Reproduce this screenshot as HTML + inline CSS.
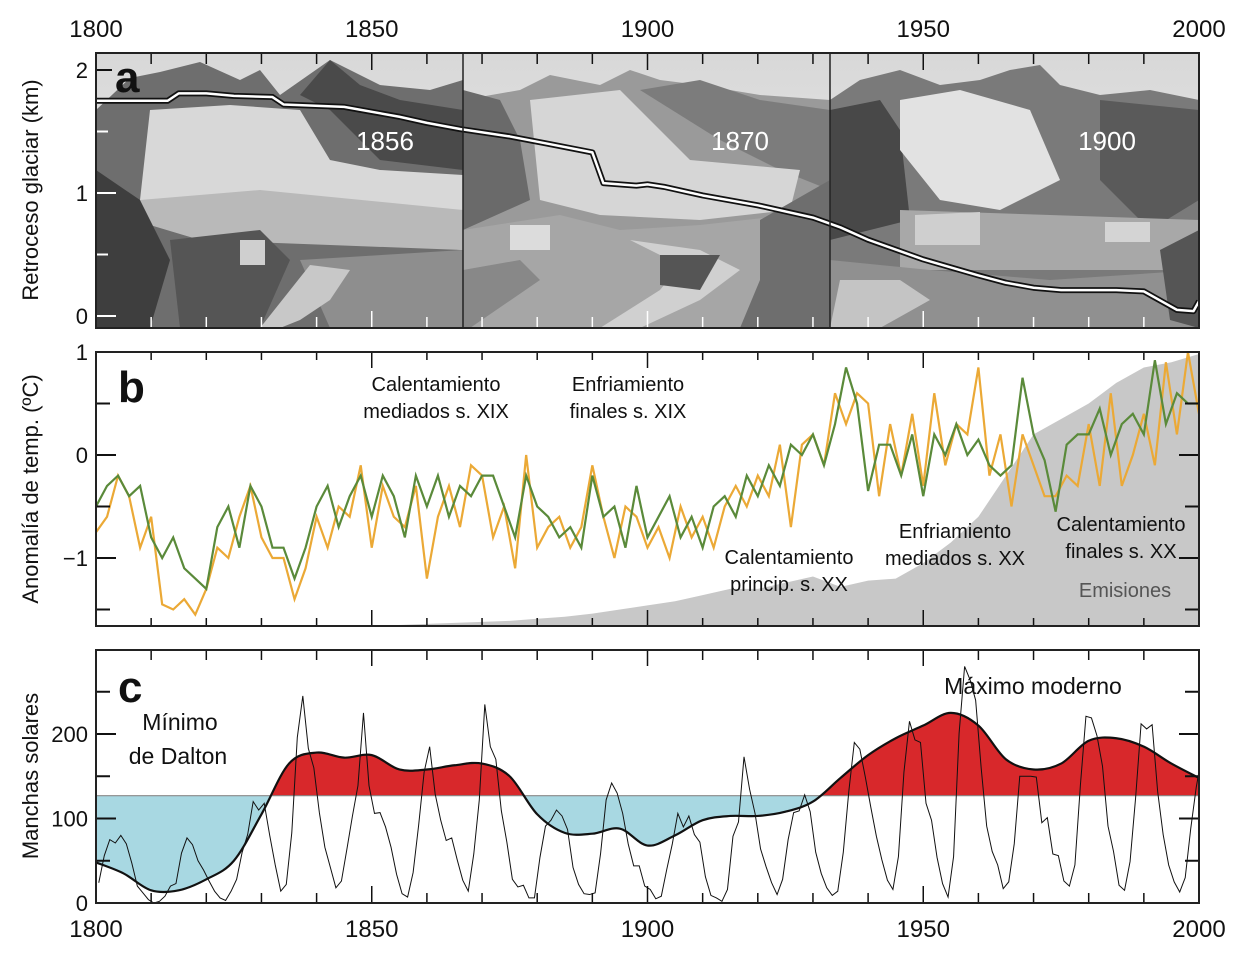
<!DOCTYPE html>
<html><head><meta charset="utf-8">
<style>
html,body{margin:0;padding:0;background:#fff;}
svg{display:block;font-family:"Liberation Sans",sans-serif;}
</style></head>
<body>
<svg id="fig" width="1241" height="957" viewBox="0 0 1241 957">
<defs>
<linearGradient id="sky" x1="0" y1="0" x2="0" y2="1"><stop offset="0" stop-color="#d8d8d8"/><stop offset="1" stop-color="#eeeeee"/></linearGradient>
<clipPath id="clipA"><rect x="96" y="53" width="1103" height="275"/></clipPath>
<clipPath id="clipB"><rect x="96" y="352" width="1103" height="274"/></clipPath>
<clipPath id="clipC"><rect x="96" y="650" width="1103" height="253"/></clipPath>
</defs>
<g id="photos" clip-path="url(#clipA)">
  <!-- photo 1856 -->
  <g>
    <rect x="96" y="53" width="367" height="275" fill="url(#sky)"/>
    <polygon points="96,110 130,78 160,72 200,62 240,80 260,70 280,95 330,60 350,70 380,85 430,90 463,80 463,328 96,328" fill="#6e6e6e"/>
    <polygon points="300,95 330,60 360,85 400,100 463,110 463,170 380,160 330,110" fill="#4a4a4a"/>
    <polygon points="150,110 230,105 300,110 330,160 380,170 463,175 463,250 400,245 330,240 230,235 150,220 140,200" fill="#d8d8d8"/>
    <polygon points="140,200 260,190 463,210 463,250 330,245 200,240 150,225" fill="#b9b9b9"/>
    <polygon points="96,170 140,200 170,260 150,328 96,328" fill="#3e3e3e"/>
    <polygon points="170,240 260,230 290,260 260,328 180,328" fill="#555"/>
    <polygon points="300,260 463,250 463,328 330,328" fill="#8e8e8e"/>
    <polygon points="240,240 265,240 265,265 240,265" fill="#cfcfcf"/>
    <polygon points="310,265 350,270 330,300 300,320 280,328 260,328" fill="#c8c8c8"/>
  </g>
  <!-- photo 1870 -->
  <g>
    <rect x="463" y="53" width="367" height="275" fill="url(#sky)"/>
    <polygon points="463,100 520,90 550,75 600,85 630,70 660,80 700,85 760,95 830,100 830,328 463,328" fill="#9a9a9a"/>
    <polygon points="463,90 500,100 520,140 530,200 463,230" fill="#6a6a6a"/>
    <polygon points="640,90 700,80 760,100 830,110 830,190 780,170 720,140" fill="#7c7c7c"/>
    <polygon points="530,100 620,90 650,120 690,160 800,170 790,210 700,220 600,215 540,200" fill="#d6d6d6"/>
    <polygon points="463,230 560,215 620,230 700,225 790,215 830,230 830,328 463,328" fill="#a6a6a6"/>
    <polygon points="630,240 700,250 740,270 700,300 640,328 600,328 660,290 680,265" fill="#d0d0d0"/>
    <polygon points="660,255 720,255 700,290 660,285" fill="#555"/>
    <polygon points="760,220 830,180 830,328 740,328 760,280" fill="#6e6e6e"/>
    <polygon points="510,225 550,225 550,250 510,250" fill="#dcdcdc"/>
    <polygon points="463,270 520,260 540,280 470,328 463,328" fill="#888"/>
  </g>
  <!-- photo 1900 -->
  <g>
    <rect x="830" y="53" width="369" height="275" fill="url(#sky)"/>
    <polygon points="830,100 860,80 900,70 940,85 980,80 1010,70 1040,65 1060,85 1100,95 1150,90 1199,100 1199,328 830,328" fill="#7a7a7a"/>
    <polygon points="830,110 880,100 900,130 910,220 830,240" fill="#484848"/>
    <polygon points="900,100 960,90 1030,110 1060,180 1000,210 940,200 900,150" fill="#e2e2e2"/>
    <polygon points="1100,100 1199,110 1199,200 1150,230 1100,180" fill="#5a5a5a"/>
    <polygon points="900,210 1199,220 1199,270 900,270" fill="#a8a8a8"/>
    <polygon points="915,215 980,212 980,245 915,245" fill="#cfcfcf"/>
    <polygon points="1105,222 1150,222 1150,242 1105,242" fill="#d4d4d4"/>
    <polygon points="830,260 930,270 1050,280 1199,270 1199,328 830,328" fill="#909090"/>
    <polygon points="840,280 900,280 930,300 880,328 830,328" fill="#c4c4c4"/>
    <polygon points="1160,250 1199,230 1199,328 1170,320" fill="#555"/>
  </g>
</g>
<g id="panelA"></g>
<g id="panelB"></g>
<g id="panelC"></g>
<g id="frame"></g>
</svg>
<script>
// ---- data ----
const glacierYears=[1800,1813,1815,1820,1825,1832,1834,1845,1855,1860,1866,1875,1882,1890,1892,1898,1900,1903,1910,1920,1930,1935,1940,1950,1960,1965,1970,1975,1985,1990,1994,1996,1999,2000];
const glacierKm=[1.75,1.75,1.81,1.81,1.79,1.78,1.72,1.70,1.62,1.57,1.52,1.46,1.40,1.33,1.08,1.06,1.07,1.05,0.98,0.90,0.80,0.72,0.62,0.46,0.33,0.27,0.23,0.21,0.21,0.20,0.10,0.05,0.04,0.12];
const tempYears=[];for(let y=1800;y<=2000;y+=2)tempYears.push(y);
const tempGreen=[-0.5,-0.3,-0.2,-0.4,-0.3,-0.8,-1.0,-0.8,-1.1,-1.2,-1.3,-0.7,-0.5,-0.9,-0.3,-0.5,-0.9,-0.9,-1.2,-0.9,-0.5,-0.3,-0.7,-0.4,-0.2,-0.6,-0.2,-0.4,-0.8,-0.2,-0.5,-0.2,-0.6,-0.3,-0.4,-0.2,-0.2,-0.5,-0.8,-0.2,-0.5,-0.6,-0.8,-0.7,-0.9,-0.2,-0.6,-0.5,-0.9,-0.3,-0.8,-0.6,-0.4,-0.8,-0.6,-0.9,-0.5,-0.4,-0.6,-0.2,-0.4,-0.1,-0.3,0.1,0.0,0.2,-0.1,0.3,0.85,0.5,-0.35,0.1,0.1,-0.2,0.2,-0.4,0.2,0.0,0.3,0.0,0.15,-0.1,-0.2,-0.1,0.75,0.2,-0.05,-0.55,0.1,0.2,0.2,0.45,0.0,0.3,0.4,0.2,0.92,0.3,0.6,0.5,0.5];
const tempOrange=[-0.75,-0.6,-0.2,-0.4,-0.9,-0.6,-1.45,-1.5,-1.4,-1.55,-1.3,-0.9,-1.0,-0.6,-0.3,-0.8,-1.0,-1.0,-1.4,-1.1,-0.6,-0.9,-0.5,-0.6,-0.1,-0.9,-0.3,-0.6,-0.7,-0.3,-1.2,-0.6,-0.3,-0.7,-0.1,-0.2,-0.8,-0.5,-1.1,0.0,-0.9,-0.7,-0.6,-0.9,-0.7,-0.1,-0.6,-1.0,-0.5,-0.6,-0.9,-0.7,-1.0,-0.5,-0.8,-0.6,-0.9,-0.5,-0.3,-0.5,-0.2,-0.4,0.1,-0.7,0.1,0.2,-0.1,0.6,0.3,0.6,0.5,-0.4,0.3,-0.2,0.4,-0.3,0.6,-0.1,0.3,0.2,0.85,-0.2,0.2,-0.5,0.2,-0.1,-0.4,-0.4,-0.2,-0.3,0.3,-0.3,0.6,-0.3,0.0,0.4,-0.1,0.9,0.2,1.0,0.4];
const emisYears=[1850,1855,1860,1865,1870,1875,1880,1885,1890,1895,1900,1905,1910,1915,1920,1925,1930,1935,1940,1945,1950,1955,1960,1965,1970,1975,1980,1985,1990,1995,2000];
const emisVals=[-1.66,-1.65,-1.64,-1.63,-1.62,-1.61,-1.59,-1.57,-1.54,-1.5,-1.46,-1.42,-1.36,-1.3,-1.3,-1.24,-1.18,-1.28,-1.22,-1.2,-1.05,-0.85,-0.6,-0.2,0.2,0.35,0.5,0.7,0.85,0.9,0.98];
const sunYears=[];for(let y=1800;y<=2000;y++)sunYears.push(y);
const sunSpots=[24,56,75,71,80,70,47,20,12,4,0,2,8,20,23,59,77,69,50,39,26,14,6,3,14,28,60,81,120,110,118,80,45,14,22,83,196,245,183,160,107,66,42,18,26,64,103,139,225,139,106,107,90,66,34,11,7,36,92,155,185,129,98,74,77,51,27,14,58,122,235,185,170,109,72,28,19,21,6,6,54,91,98,110,103,87,42,22,11,10,12,59,122,142,130,106,70,44,44,20,16,5,8,40,70,106,90,103,81,72,31,9,6,2,16,79,96,173,135,106,64,43,24,10,28,75,107,109,128,108,60,35,18,9,14,60,132,190,182,149,113,79,51,27,16,55,155,215,193,190,118,98,54,23,7,55,201,280,264,240,160,91,61,45,17,25,70,150,150,150,149,95,101,58,56,26,20,45,140,221,219,198,162,91,61,21,15,49,124,212,206,211,132,81,45,25,13,30,88,137,174];
const smoothYears=[1800,1805,1810,1815,1820,1825,1830,1835,1840,1845,1850,1855,1860,1865,1870,1875,1880,1885,1890,1895,1900,1905,1910,1915,1920,1925,1930,1935,1940,1945,1950,1955,1960,1965,1970,1975,1980,1985,1990,1995,2000];
const smoothVals=[48,35,15,15,28,50,105,165,178,172,175,158,158,163,165,150,105,83,82,88,68,80,98,103,103,108,120,148,175,195,210,225,210,170,158,165,192,195,185,165,148];
const sunThreshold=127;
const xTicks=[1800,1850,1900,1950,2000];
const aTicks=[0,1,2];const bTicks=[-1,0,1];const cTicks=[0,100,200];

// ---- scales ----
const X=y=>96+(y-1800)*(1103/200);
const YA=v=>316-v*123;
const YB=v=>455-v*103;
const YC=v=>903-v*0.845;
const NS='http://www.w3.org/2000/svg';
function mk(tag,attrs,parent){const e=document.createElementNS(NS,tag);for(const k in attrs)e.setAttribute(k,attrs[k]);parent.appendChild(e);return e;}
function smoothPath(pts){let d='M'+pts[0][0]+','+pts[0][1];for(let i=0;i<pts.length-1;i++){const p0=pts[Math.max(i-1,0)],p1=pts[i],p2=pts[i+1],p3=pts[Math.min(i+2,pts.length-1)];const c1=[p1[0]+(p2[0]-p0[0])/6,p1[1]+(p2[1]-p0[1])/6],c2=[p2[0]-(p3[0]-p1[0])/6,p2[1]-(p3[1]-p1[1])/6];d+=` C${c1[0]},${c1[1]} ${c2[0]},${c2[1]} ${p2[0]},${p2[1]}`;}return d;}
const A=document.getElementById('panelA'),B=document.getElementById('panelB'),C=document.getElementById('panelC'),F=document.getElementById('frame');

// ---- panel a ----
const gPts=glacierYears.map((y,i)=>X(y)+','+YA(glacierKm[i])).join(' ');
let e=mk('polyline',{points:gPts,fill:'none',stroke:'#111','stroke-width':6,'stroke-linejoin':'round','clip-path':'url(#clipA)'},A);


e=mk('polyline',{points:gPts,fill:'none',stroke:'#fff','stroke-width':2.5,'stroke-linejoin':'round','clip-path':'url(#clipA)'},A);


[['1856',385],['1870',740],['1900',1107]].forEach(([t,x])=>{const el=mk('text',{x:x,y:150,'font-size':26,fill:'#fff','text-anchor':'middle'},A);el.textContent=t;

});
for(let v=0;v<=2;v+=0.5){if(v===2)continue;const el=mk('line',{x1:96,x2:v%1===0?116:108,y1:YA(v),y2:YA(v),stroke:'#fff','stroke-width':2},A);}
mk('line',{x1:96,x2:112,y1:YA(2),y2:YA(2),stroke:'#111','stroke-width':2},A);
for(let y=1810;y<2000;y+=10){mk('line',{x1:X(y),x2:X(y),y1:53,y2:y%50===0?70:64,stroke:'#111','stroke-width':1.5},A);mk('line',{x1:X(y),x2:X(y),y1:328,y2:y%50===0?311:317,stroke:'#fff','stroke-width':1.5},A);}
e=mk('text',{x:115,y:92,'font-size':44,'font-weight':'bold',fill:'#111'},A);e.textContent='a';


mk('line',{x1:463,x2:463,y1:53,y2:328,stroke:'#222','stroke-width':1.5},A);
mk('line',{x1:830,x2:830,y1:53,y2:328,stroke:'#222','stroke-width':1.5},A);

// ---- panel b ----
const emPts=[[X(1800),626]].concat(emisYears.map((y,i)=>[X(y),YB(emisVals[i])])).concat([[X(2000),626]]);
e=mk('polygon',{points:emPts.map(p=>p.join(',')).join(' '),fill:'#c8c8c8','clip-path':'url(#clipB)'},B);


e=mk('polyline',{points:tempYears.map((y,i)=>X(y)+','+YB(tempOrange[i])).join(' '),fill:'none',stroke:'#eba936','stroke-width':2.2,'clip-path':'url(#clipB)'},B);


e=mk('polyline',{points:tempYears.map((y,i)=>X(y)+','+YB(tempGreen[i])).join(' '),fill:'none',stroke:'#5a8a3a','stroke-width':2.2,'clip-path':'url(#clipB)'},B);


for(let v=-1.5;v<=1;v+=0.5){mk('line',{x1:96,x2:v%1===0?116:110,y1:YB(v),y2:YB(v),stroke:'#111','stroke-width':2},B);mk('line',{x1:1199,x2:v%1===0?1179:1185,y1:YB(v),y2:YB(v),stroke:'#111','stroke-width':2},B);}
for(let y=1810;y<2000;y+=10){mk('line',{x1:X(y),x2:X(y),y1:352,y2:y%50===0?368:360,stroke:'#111','stroke-width':1.5},B);mk('line',{x1:X(y),x2:X(y),y1:626,y2:y%50===0?610:618,stroke:'#111','stroke-width':1.5},B);}
e=mk('text',{x:118,y:402,'font-size':44,'font-weight':'bold',fill:'#111'},B);e.textContent='b';


const notes=[['Calentamiento','mediados s. XIX',436,391,'#111'],['Enfriamiento','finales s. XIX',628,391,'#111'],['Calentamiento','princip. s. XX',789,564,'#111'],['Enfriamiento','mediados s. XX',955,538,'#111'],['Calentamiento','finales s. XX',1121,531,'#111']];
notes.forEach(n=>{const t=mk('text',{x:n[2],y:n[3],'font-size':20,fill:n[4],'text-anchor':'middle'},B);t.textContent=n[0];


const t2=mk('text',{x:n[2],y:n[3]+27,'font-size':20,fill:n[4],'text-anchor':'middle'},B);t2.textContent=n[1];});
e=mk('text',{x:1125,y:597,'font-size':20,fill:'#555','text-anchor':'middle'},B);e.textContent='Emisiones';



// ---- panel c ----
const thY=YC(sunThreshold);
const sPts=smoothYears.map((y,i)=>[X(y),YC(smoothVals[i])]);
const sPath=smoothPath(sPts);
mk('defs',{},C).innerHTML=`<clipPath id="above"><rect x="96" y="650" width="1103" height="${thY-650}"/></clipPath><clipPath id="below"><rect x="96" y="${thY}" width="1103" height="${903-thY}"/></clipPath>`;
e=mk('path',{d:sPath+` L${X(2000)},${thY} L${X(1800)},${thY} Z`,fill:'#d8282b','clip-path':'url(#above)'},C);


e=mk('path',{d:sPath+` L${X(2000)},${thY} L${X(1800)},${thY} Z`,fill:'#a8d8e2','clip-path':'url(#below)'},C);


e=mk('line',{x1:96,x2:1199,y1:thY,y2:thY,stroke:'#888','stroke-width':1.2},C);


e=mk('polyline',{points:sunYears.map((y,i)=>X(y+0.5)+','+YC(sunSpots[i])).join(' '),fill:'none',stroke:'#111','stroke-width':1,'clip-path':'url(#clipC)'},C);


e=mk('path',{d:sPath,fill:'none',stroke:'#111','stroke-width':2.2},C);


for(let v=50;v<=300;v+=50){if(YC(v)<652)continue;mk('line',{x1:96,x2:v%100===0?116:110,y1:YC(v),y2:YC(v),stroke:'#111','stroke-width':2},C);mk('line',{x1:1199,x2:v%100===0?1179:1185,y1:YC(v),y2:YC(v),stroke:'#111','stroke-width':2},C);}
for(let y=1810;y<2000;y+=10){mk('line',{x1:X(y),x2:X(y),y1:650,y2:y%50===0?666:660,stroke:'#111','stroke-width':1.5},C);mk('line',{x1:X(y),x2:X(y),y1:903,y2:y%50===0?886:893,stroke:'#111','stroke-width':1.5},C);}
e=mk('text',{x:118,y:702,'font-size':44,'font-weight':'bold',fill:'#111'},C);e.textContent='c';


[['Mínimo',180,730],['de Dalton',178,764]].forEach(a=>{const t=mk('text',{x:a[1],y:a[2],'font-size':23,fill:'#111','text-anchor':'middle'},C);t.textContent=a[0];

});
e=mk('text',{x:1033,y:694,'font-size':23,fill:'#111','text-anchor':'middle'},C);e.textContent='Máximo moderno';



// ---- frames, tick labels, titles ----
[[53,328],[352,626],[650,903]].forEach((r,i)=>{const b=mk('rect',{x:96,y:r[0],width:1103,height:r[1]-r[0],fill:'none',stroke:'#222','stroke-width':2},F);

});
xTicks.forEach(y=>{let t=mk('text',{x:X(y),y:37,'font-size':24,fill:'#111','text-anchor':'middle'},F);t.textContent=y;


t=mk('text',{x:X(y),y:937,'font-size':24,fill:'#111','text-anchor':'middle'},F);t.textContent=y;

});
aTicks.forEach(v=>{const t=mk('text',{x:88,y:YA(v)+8,'font-size':22,fill:'#111','text-anchor':'end'},F);t.textContent=v;

});
bTicks.forEach(v=>{const t=mk('text',{x:88,y:YB(v)+8,'font-size':22,fill:'#111','text-anchor':'end'},F);t.textContent=v<0?'−'+Math.abs(v):v;

});
cTicks.forEach(v=>{const t=mk('text',{x:88,y:YC(v)+8,'font-size':22,fill:'#111','text-anchor':'end'},F);t.textContent=v;

});
[['Retroceso glaciar (km)',190,'glacier-y-axis-title'],['Anomalía de temp. (ºC)',489,'temp-y-axis-title'],['Manchas solares',776,'sunspot-y-axis-title']].forEach(a=>{const t=mk('text',{x:0,y:0,'font-size':22,fill:'#111','text-anchor':'middle',transform:`translate(38,${a[1]}) rotate(-90)`},F);t.textContent=a[0];

});
</script>
</body></html>
